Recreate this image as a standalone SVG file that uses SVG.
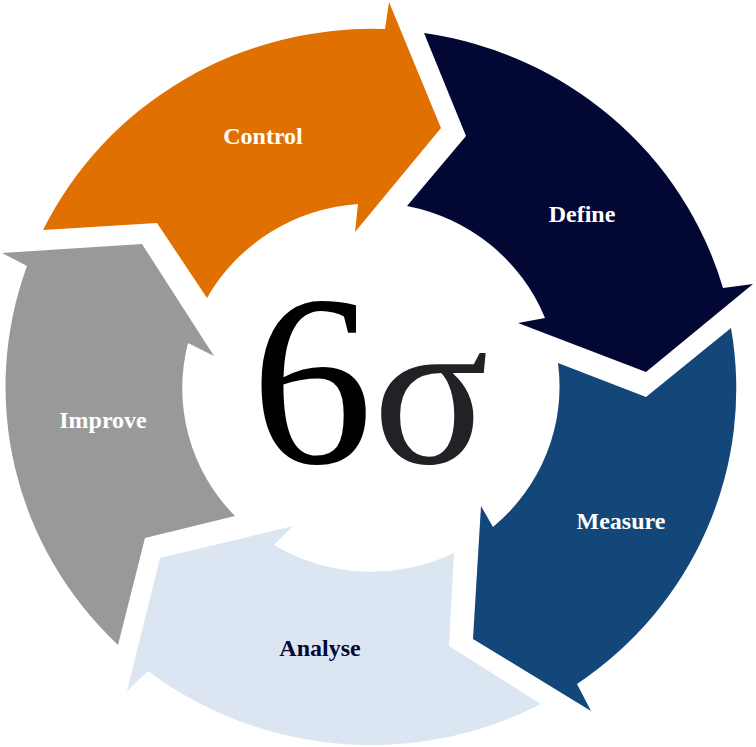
<svg xmlns="http://www.w3.org/2000/svg" width="756" height="747" viewBox="0 0 756 747">
<style>
.lbl{font-family:"Liberation Serif","Times New Roman",serif;font-weight:bold;font-size:24px;text-anchor:middle}
.w{fill:#ffffff}
.n{fill:#020833}
.big{font-family:"Liberation Serif","Times New Roman",serif;font-size:244px}
</style>
<rect width="756" height="747" fill="#ffffff"/>
<g id="control">
<path fill="#E07000" d="M43,230 A366,358 0 0 1 385,29 L389,2 L441,128 L355,232 L358,204 A188,184 0 0 0 207,298 L157,223 Z"/>
<text class="lbl w" x="263" y="144">Control</text>
</g>
<g id="define">
<path fill="#020833" d="M424,33 A366,358 0 0 1 723,288 L753,284 L646,372 L518,323 L545,318 A188,184 0 0 0 407,206 L466,136 Z"/>
<text class="lbl w" x="582" y="222">Define</text>
</g>
<g id="measure">
<path fill="#134679" d="M731,328 A366,358 0 0 1 577,684 L591,711 L473,639 L481,506 L493,527 A188,184 0 0 0 558,363 L646,397 Z"/>
<text class="lbl w" x="621" y="529">Measure</text>
</g>
<g id="analyse">
<path fill="#DCE6F2" d="M541,704 A366,358 0 0 1 148,671 L127,691 L160,558 L293,526 L274,545 A188,184 0 0 0 454,553 L449,646 Z"/>
<text class="lbl n" x="320" y="656">Analyse</text>
</g>
<g id="improve">
<path fill="#999999" d="M118,645 A366,358 0 0 1 27,266 L2,253 L142,244 L214,356 L188,343 A188,184 0 0 0 235,516 L145,538 Z"/>
<text class="lbl w" x="103" y="428">Improve</text>
</g>
<g id="center">
<text class="big" y="463"><tspan x="312" text-anchor="middle" fill="#000000">6</tspan><tspan x="431" text-anchor="middle" fill="#222226" font-size="215">σ</tspan></text>
</g>
<g id="connectors"></g>
</svg>
